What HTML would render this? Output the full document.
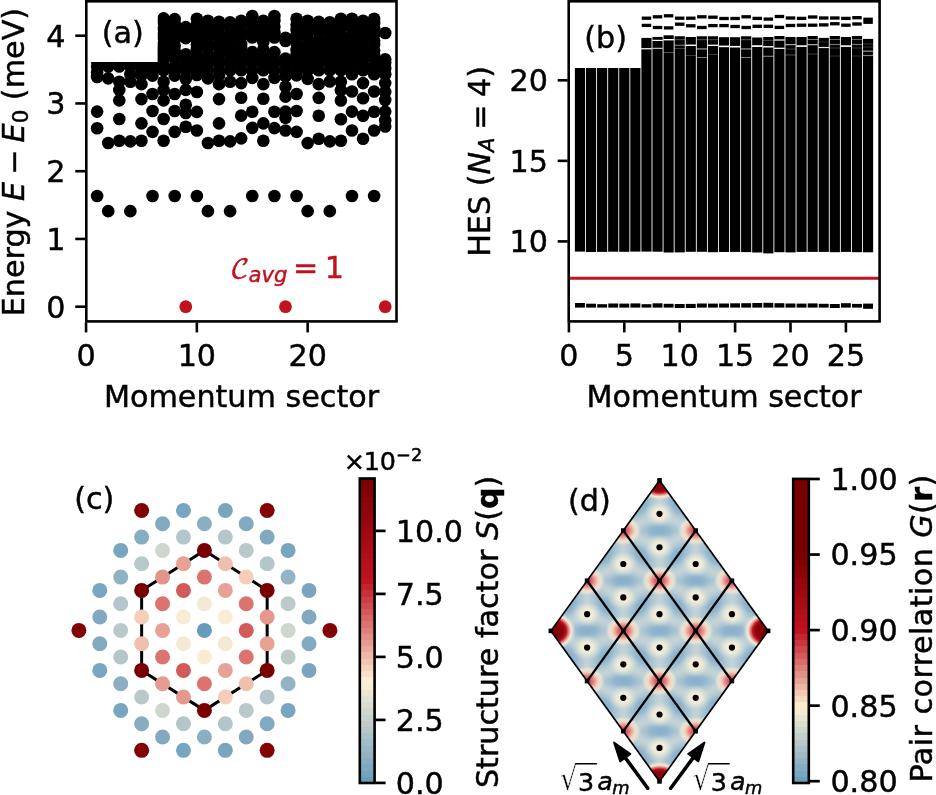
<!DOCTYPE html>
<html lang="en">
<head>
<meta charset="utf-8">
<title>Figure: energy spectrum, HES, structure factor and pair correlation</title>
<style>
html,body{margin:0;padding:0;background:#fff;}
body{width:936px;height:795px;overflow:hidden;}
svg{display:block;will-change:transform;filter:grayscale(0);color:#000;}
svg text{font-family:"DejaVu Sans", "Liberation Sans", sans-serif;font-size:30.2px;fill:currentColor;stroke:currentColor;stroke-width:0.45px;}
</style>
</head>
<body>
<svg width="936" height="795" viewBox="0 0 936 795">
<defs>
<linearGradient id="cb3" x1="0" y1="1" x2="0" y2="0"><stop offset="0.0000" stop-color="#6b9ebd"/><stop offset="0.0204" stop-color="#6b9ebd"/><stop offset="0.0204" stop-color="#74a3be"/><stop offset="0.0408" stop-color="#74a3be"/><stop offset="0.0408" stop-color="#7da8c0"/><stop offset="0.0612" stop-color="#7da8c0"/><stop offset="0.0612" stop-color="#86adc1"/><stop offset="0.0816" stop-color="#86adc1"/><stop offset="0.0816" stop-color="#90b2c3"/><stop offset="0.1020" stop-color="#90b2c3"/><stop offset="0.1020" stop-color="#99b8c4"/><stop offset="0.1224" stop-color="#99b8c4"/><stop offset="0.1224" stop-color="#a2bdc6"/><stop offset="0.1429" stop-color="#a2bdc6"/><stop offset="0.1429" stop-color="#abc2c7"/><stop offset="0.1633" stop-color="#abc2c7"/><stop offset="0.1633" stop-color="#b5c7c9"/><stop offset="0.1837" stop-color="#b5c7c9"/><stop offset="0.1837" stop-color="#becccb"/><stop offset="0.2041" stop-color="#becccb"/><stop offset="0.2041" stop-color="#c7d2cc"/><stop offset="0.2245" stop-color="#c7d2cc"/><stop offset="0.2245" stop-color="#d0d7ce"/><stop offset="0.2449" stop-color="#d0d7ce"/><stop offset="0.2449" stop-color="#dadccf"/><stop offset="0.2653" stop-color="#dadccf"/><stop offset="0.2653" stop-color="#e3e1d1"/><stop offset="0.2857" stop-color="#e3e1d1"/><stop offset="0.2857" stop-color="#ece6d2"/><stop offset="0.3061" stop-color="#ece6d2"/><stop offset="0.3061" stop-color="#f5ecd4"/><stop offset="0.3265" stop-color="#f5ecd4"/><stop offset="0.3265" stop-color="#fceed3"/><stop offset="0.3469" stop-color="#fceed3"/><stop offset="0.3469" stop-color="#f9e0c8"/><stop offset="0.3673" stop-color="#f9e0c8"/><stop offset="0.3673" stop-color="#f5d3bd"/><stop offset="0.3878" stop-color="#f5d3bd"/><stop offset="0.3878" stop-color="#f1c5b2"/><stop offset="0.4082" stop-color="#f1c5b2"/><stop offset="0.4082" stop-color="#eeb7a7"/><stop offset="0.4286" stop-color="#eeb7a7"/><stop offset="0.4286" stop-color="#eaaa9b"/><stop offset="0.4490" stop-color="#eaaa9b"/><stop offset="0.4490" stop-color="#e69c90"/><stop offset="0.4694" stop-color="#e69c90"/><stop offset="0.4694" stop-color="#e38f85"/><stop offset="0.4898" stop-color="#e38f85"/><stop offset="0.4898" stop-color="#df817a"/><stop offset="0.5102" stop-color="#df817a"/><stop offset="0.5102" stop-color="#db736f"/><stop offset="0.5306" stop-color="#db736f"/><stop offset="0.5306" stop-color="#d86664"/><stop offset="0.5510" stop-color="#d86664"/><stop offset="0.5510" stop-color="#d45859"/><stop offset="0.5714" stop-color="#d45859"/><stop offset="0.5714" stop-color="#d04b4d"/><stop offset="0.5918" stop-color="#d04b4d"/><stop offset="0.5918" stop-color="#cd3d42"/><stop offset="0.6122" stop-color="#cd3d42"/><stop offset="0.6122" stop-color="#c92f37"/><stop offset="0.6327" stop-color="#c92f37"/><stop offset="0.6327" stop-color="#c5222c"/><stop offset="0.6531" stop-color="#c5222c"/><stop offset="0.6531" stop-color="#c21421"/><stop offset="0.6735" stop-color="#c21421"/><stop offset="0.6735" stop-color="#bd111d"/><stop offset="0.6939" stop-color="#bd111d"/><stop offset="0.6939" stop-color="#b9101c"/><stop offset="0.7143" stop-color="#b9101c"/><stop offset="0.7143" stop-color="#b40f1a"/><stop offset="0.7347" stop-color="#b40f1a"/><stop offset="0.7347" stop-color="#b00e18"/><stop offset="0.7551" stop-color="#b00e18"/><stop offset="0.7551" stop-color="#ab0d16"/><stop offset="0.7755" stop-color="#ab0d16"/><stop offset="0.7755" stop-color="#a70c14"/><stop offset="0.7959" stop-color="#a70c14"/><stop offset="0.7959" stop-color="#a20a12"/><stop offset="0.8163" stop-color="#a20a12"/><stop offset="0.8163" stop-color="#9e0910"/><stop offset="0.8367" stop-color="#9e0910"/><stop offset="0.8367" stop-color="#9a080e"/><stop offset="0.8571" stop-color="#9a080e"/><stop offset="0.8571" stop-color="#95070c"/><stop offset="0.8776" stop-color="#95070c"/><stop offset="0.8776" stop-color="#91060a"/><stop offset="0.8980" stop-color="#91060a"/><stop offset="0.8980" stop-color="#8c0509"/><stop offset="0.9184" stop-color="#8c0509"/><stop offset="0.9184" stop-color="#880407"/><stop offset="0.9388" stop-color="#880407"/><stop offset="0.9388" stop-color="#830305"/><stop offset="0.9592" stop-color="#830305"/><stop offset="0.9592" stop-color="#7f0203"/><stop offset="0.9796" stop-color="#7f0203"/><stop offset="0.9796" stop-color="#7a0101"/><stop offset="1.0000" stop-color="#7a0101"/></linearGradient>
<linearGradient id="cb4" x1="0" y1="1" x2="0" y2="0"><stop offset="0.0000" stop-color="#6c9ebd"/><stop offset="0.0204" stop-color="#6c9ebd"/><stop offset="0.0204" stop-color="#78a5bf"/><stop offset="0.0408" stop-color="#78a5bf"/><stop offset="0.0408" stop-color="#85acc1"/><stop offset="0.0612" stop-color="#85acc1"/><stop offset="0.0612" stop-color="#91b3c3"/><stop offset="0.0816" stop-color="#91b3c3"/><stop offset="0.0816" stop-color="#9dbac5"/><stop offset="0.1020" stop-color="#9dbac5"/><stop offset="0.1020" stop-color="#aac1c7"/><stop offset="0.1224" stop-color="#aac1c7"/><stop offset="0.1224" stop-color="#b6c8c9"/><stop offset="0.1429" stop-color="#b6c8c9"/><stop offset="0.1429" stop-color="#c2cfcb"/><stop offset="0.1633" stop-color="#c2cfcb"/><stop offset="0.1633" stop-color="#cfd6cd"/><stop offset="0.1837" stop-color="#cfd6cd"/><stop offset="0.1837" stop-color="#dbddcf"/><stop offset="0.2041" stop-color="#dbddcf"/><stop offset="0.2041" stop-color="#e7e4d1"/><stop offset="0.2245" stop-color="#e7e4d1"/><stop offset="0.2245" stop-color="#f4ebd3"/><stop offset="0.2449" stop-color="#f4ebd3"/><stop offset="0.2449" stop-color="#fcebd1"/><stop offset="0.2653" stop-color="#fcebd1"/><stop offset="0.2653" stop-color="#f7d9c2"/><stop offset="0.2857" stop-color="#f7d9c2"/><stop offset="0.2857" stop-color="#f2c7b4"/><stop offset="0.3061" stop-color="#f2c7b4"/><stop offset="0.3061" stop-color="#edb5a5"/><stop offset="0.3265" stop-color="#edb5a5"/><stop offset="0.3265" stop-color="#e8a396"/><stop offset="0.3469" stop-color="#e8a396"/><stop offset="0.3469" stop-color="#e39187"/><stop offset="0.3673" stop-color="#e39187"/><stop offset="0.3673" stop-color="#de7f78"/><stop offset="0.3878" stop-color="#de7f78"/><stop offset="0.3878" stop-color="#d96d69"/><stop offset="0.4082" stop-color="#d96d69"/><stop offset="0.4082" stop-color="#d55a5a"/><stop offset="0.4286" stop-color="#d55a5a"/><stop offset="0.4286" stop-color="#d0484c"/><stop offset="0.4490" stop-color="#d0484c"/><stop offset="0.4490" stop-color="#cb363d"/><stop offset="0.4694" stop-color="#cb363d"/><stop offset="0.4694" stop-color="#c6242e"/><stop offset="0.4898" stop-color="#c6242e"/><stop offset="0.4898" stop-color="#c1121f"/><stop offset="0.5102" stop-color="#c1121f"/><stop offset="0.5102" stop-color="#bb111d"/><stop offset="0.5306" stop-color="#bb111d"/><stop offset="0.5306" stop-color="#b60f1a"/><stop offset="0.5510" stop-color="#b60f1a"/><stop offset="0.5510" stop-color="#b00e18"/><stop offset="0.5714" stop-color="#b00e18"/><stop offset="0.5714" stop-color="#aa0c15"/><stop offset="0.5918" stop-color="#aa0c15"/><stop offset="0.5918" stop-color="#a40b13"/><stop offset="0.6122" stop-color="#a40b13"/><stop offset="0.6122" stop-color="#9f0a10"/><stop offset="0.6327" stop-color="#9f0a10"/><stop offset="0.6327" stop-color="#99080e"/><stop offset="0.6531" stop-color="#99080e"/><stop offset="0.6531" stop-color="#93070c"/><stop offset="0.6735" stop-color="#93070c"/><stop offset="0.6735" stop-color="#8d0509"/><stop offset="0.6939" stop-color="#8d0509"/><stop offset="0.6939" stop-color="#880407"/><stop offset="0.7143" stop-color="#880407"/><stop offset="0.7143" stop-color="#820204"/><stop offset="0.7347" stop-color="#820204"/><stop offset="0.7347" stop-color="#7c0102"/><stop offset="0.7551" stop-color="#7c0102"/><stop offset="0.7551" stop-color="#780000"/><stop offset="0.7755" stop-color="#780000"/><stop offset="0.7755" stop-color="#780000"/><stop offset="0.7959" stop-color="#780000"/><stop offset="0.7959" stop-color="#780000"/><stop offset="0.8163" stop-color="#780000"/><stop offset="0.8163" stop-color="#780000"/><stop offset="0.8367" stop-color="#780000"/><stop offset="0.8367" stop-color="#780000"/><stop offset="0.8571" stop-color="#780000"/><stop offset="0.8571" stop-color="#780000"/><stop offset="0.8776" stop-color="#780000"/><stop offset="0.8776" stop-color="#780000"/><stop offset="0.8980" stop-color="#780000"/><stop offset="0.8980" stop-color="#780000"/><stop offset="0.9184" stop-color="#780000"/><stop offset="0.9184" stop-color="#780000"/><stop offset="0.9388" stop-color="#780000"/><stop offset="0.9388" stop-color="#780000"/><stop offset="0.9592" stop-color="#780000"/><stop offset="0.9592" stop-color="#780000"/><stop offset="0.9796" stop-color="#780000"/><stop offset="0.9796" stop-color="#780000"/><stop offset="1.0000" stop-color="#780000"/></linearGradient>
<filter id="blur" x="-5%" y="-5%" width="110%" height="110%"><feGaussianBlur stdDeviation="3"/></filter>
<radialGradient id="gblue"><stop offset="0" stop-color="#82acc9" stop-opacity="0.85"/><stop offset="0.45" stop-color="#88b0cb" stop-opacity="0.7"/><stop offset="1" stop-color="#a6c3d3" stop-opacity="0"/></radialGradient>
<radialGradient id="gcream"><stop offset="0" stop-color="#f5edd8" stop-opacity="1"/><stop offset="0.4" stop-color="#f2ebd8" stop-opacity="0.95"/><stop offset="0.68" stop-color="#dde4d9" stop-opacity="0.55"/><stop offset="1" stop-color="#bcd0d8" stop-opacity="0"/></radialGradient>
<radialGradient id="gpink"><stop offset="0" stop-color="#cf3f4b" stop-opacity="1"/><stop offset="0.25" stop-color="#d9626a" stop-opacity="1"/><stop offset="0.45" stop-color="#eaa095" stop-opacity="1"/><stop offset="0.62" stop-color="#f6d5c1" stop-opacity="0.95"/><stop offset="0.8" stop-color="#f5ecd6" stop-opacity="0.65"/><stop offset="1" stop-color="#dfe3d8" stop-opacity="0"/></radialGradient>
<radialGradient id="gdark"><stop offset="0" stop-color="#780000" stop-opacity="1"/><stop offset="0.5" stop-color="#8a0510" stop-opacity="1"/><stop offset="0.62" stop-color="#c1121f" stop-opacity="1"/><stop offset="0.72" stop-color="#e38b83" stop-opacity="1"/><stop offset="0.82" stop-color="#fbeed6" stop-opacity="0.9"/><stop offset="1" stop-color="#dfe3d8" stop-opacity="0"/></radialGradient>
</defs>
<rect width="936" height="795" fill="#fff"/>
<g id="panel-a">
<g fill="#000">
<circle cx="97.13" cy="195.93" r="6.3"/>
<circle cx="97.13" cy="128.18" r="6.3"/>
<circle cx="97.13" cy="111.58" r="6.3"/>
<circle cx="97.13" cy="77.03" r="6.3"/>
<circle cx="97.13" cy="72.28" r="6.3"/>
<circle cx="97.13" cy="66.53" r="6.3"/>
<circle cx="97.13" cy="61.24" r="6.3"/>
<circle cx="97.13" cy="55.95" r="6.3"/>
<circle cx="97.13" cy="49.25" r="6.3"/>
<circle cx="108.21" cy="211.17" r="6.3"/>
<circle cx="108.21" cy="142.95" r="6.3"/>
<circle cx="108.21" cy="78.38" r="6.3"/>
<circle cx="108.21" cy="66.53" r="6.3"/>
<circle cx="108.21" cy="60.36" r="6.3"/>
<circle cx="108.21" cy="56.17" r="6.3"/>
<circle cx="108.21" cy="49.25" r="6.3"/>
<circle cx="119.29" cy="140.71" r="6.3"/>
<circle cx="119.29" cy="119.03" r="6.3"/>
<circle cx="119.29" cy="100.33" r="6.3"/>
<circle cx="119.29" cy="89.9" r="6.3"/>
<circle cx="119.29" cy="81.77" r="6.3"/>
<circle cx="119.29" cy="66.53" r="6.3"/>
<circle cx="119.29" cy="60.67" r="6.3"/>
<circle cx="119.29" cy="55.37" r="6.3"/>
<circle cx="119.29" cy="49.25" r="6.3"/>
<circle cx="130.37" cy="211.17" r="6.3"/>
<circle cx="130.37" cy="141.39" r="6.3"/>
<circle cx="130.37" cy="81.77" r="6.3"/>
<circle cx="130.37" cy="74.32" r="6.3"/>
<circle cx="130.37" cy="66.53" r="6.3"/>
<circle cx="130.37" cy="61.97" r="6.3"/>
<circle cx="130.37" cy="54.99" r="6.3"/>
<circle cx="130.37" cy="49.25" r="6.3"/>
<circle cx="141.45" cy="140.71" r="6.3"/>
<circle cx="141.45" cy="123.37" r="6.3"/>
<circle cx="141.45" cy="99.11" r="6.3"/>
<circle cx="141.45" cy="84.14" r="6.3"/>
<circle cx="141.45" cy="75.67" r="6.3"/>
<circle cx="141.45" cy="69.57" r="6.3"/>
<circle cx="141.45" cy="66.53" r="6.3"/>
<circle cx="141.45" cy="62.02" r="6.3"/>
<circle cx="141.45" cy="55.19" r="6.3"/>
<circle cx="141.45" cy="49.25" r="6.3"/>
<circle cx="152.53" cy="195.93" r="6.3"/>
<circle cx="152.53" cy="131.9" r="6.3"/>
<circle cx="152.53" cy="111.04" r="6.3"/>
<circle cx="152.53" cy="93.96" r="6.3"/>
<circle cx="152.53" cy="75.67" r="6.3"/>
<circle cx="152.53" cy="69.57" r="6.3"/>
<circle cx="152.53" cy="66.53" r="6.3"/>
<circle cx="152.53" cy="61.93" r="6.3"/>
<circle cx="152.53" cy="56.12" r="6.3"/>
<circle cx="152.53" cy="49.25" r="6.3"/>
<circle cx="163.61" cy="140.71" r="6.3"/>
<circle cx="163.61" cy="119.03" r="6.3"/>
<circle cx="163.61" cy="100.33" r="6.3"/>
<circle cx="163.61" cy="89.9" r="6.3"/>
<circle cx="163.61" cy="81.77" r="6.3"/>
<circle cx="163.61" cy="70.25" r="6.3"/>
<circle cx="163.61" cy="65.27" r="6.3"/>
<circle cx="163.61" cy="58.99" r="6.3"/>
<circle cx="163.61" cy="55.7" r="6.3"/>
<circle cx="163.61" cy="50.24" r="6.3"/>
<circle cx="163.61" cy="43.96" r="6.3"/>
<circle cx="163.61" cy="37.9" r="6.3"/>
<circle cx="163.61" cy="33.72" r="6.3"/>
<circle cx="163.61" cy="29.02" r="6.3"/>
<circle cx="163.61" cy="22.25" r="6.3"/>
<circle cx="163.61" cy="18.36" r="6.3"/>
<circle cx="174.69" cy="195.93" r="6.3"/>
<circle cx="174.69" cy="131.9" r="6.3"/>
<circle cx="174.69" cy="111.04" r="6.3"/>
<circle cx="174.69" cy="93.96" r="6.3"/>
<circle cx="174.69" cy="75.67" r="6.3"/>
<circle cx="174.69" cy="70.25" r="6.3"/>
<circle cx="174.69" cy="66.37" r="6.3"/>
<circle cx="174.69" cy="59.05" r="6.3"/>
<circle cx="174.69" cy="55.48" r="6.3"/>
<circle cx="174.69" cy="50.76" r="6.3"/>
<circle cx="174.69" cy="45.71" r="6.3"/>
<circle cx="174.69" cy="40.08" r="6.3"/>
<circle cx="174.69" cy="33.59" r="6.3"/>
<circle cx="174.69" cy="30.2" r="6.3"/>
<circle cx="174.69" cy="24" r="6.3"/>
<circle cx="174.69" cy="19.1" r="6.3"/>
<circle cx="185.77" cy="126.82" r="6.3"/>
<circle cx="185.77" cy="112.94" r="6.3"/>
<circle cx="185.77" cy="104.8" r="6.3"/>
<circle cx="185.77" cy="89.9" r="6.3"/>
<circle cx="185.77" cy="79.06" r="6.3"/>
<circle cx="185.77" cy="70.25" r="6.3"/>
<circle cx="185.77" cy="64.55" r="6.3"/>
<circle cx="185.77" cy="59.94" r="6.3"/>
<circle cx="185.77" cy="54.26" r="6.3"/>
<circle cx="185.77" cy="38.14" r="6.3"/>
<circle cx="185.77" cy="32.49" r="6.3"/>
<circle cx="185.77" cy="27.1" r="6.3"/>
<circle cx="196.85" cy="195.93" r="6.3"/>
<circle cx="196.85" cy="130.55" r="6.3"/>
<circle cx="196.85" cy="111.92" r="6.3"/>
<circle cx="196.85" cy="91.93" r="6.3"/>
<circle cx="196.85" cy="75" r="6.3"/>
<circle cx="196.85" cy="70.25" r="6.3"/>
<circle cx="196.85" cy="66.29" r="6.3"/>
<circle cx="196.85" cy="61.15" r="6.3"/>
<circle cx="196.85" cy="55.6" r="6.3"/>
<circle cx="196.85" cy="49.17" r="6.3"/>
<circle cx="196.85" cy="44.7" r="6.3"/>
<circle cx="196.85" cy="39.86" r="6.3"/>
<circle cx="196.85" cy="33.98" r="6.3"/>
<circle cx="196.85" cy="29.19" r="6.3"/>
<circle cx="196.85" cy="24.45" r="6.3"/>
<circle cx="196.85" cy="18.76" r="6.3"/>
<circle cx="207.93" cy="211.17" r="6.3"/>
<circle cx="207.93" cy="142.95" r="6.3"/>
<circle cx="207.93" cy="78.38" r="6.3"/>
<circle cx="207.93" cy="70.25" r="6.3"/>
<circle cx="207.93" cy="63.96" r="6.3"/>
<circle cx="207.93" cy="58.72" r="6.3"/>
<circle cx="207.93" cy="54.46" r="6.3"/>
<circle cx="207.93" cy="48.07" r="6.3"/>
<circle cx="207.93" cy="42.71" r="6.3"/>
<circle cx="207.93" cy="36.26" r="6.3"/>
<circle cx="207.93" cy="31.16" r="6.3"/>
<circle cx="207.93" cy="26.86" r="6.3"/>
<circle cx="207.93" cy="20.8" r="6.3"/>
<circle cx="219.01" cy="140.71" r="6.3"/>
<circle cx="219.01" cy="123.37" r="6.3"/>
<circle cx="219.01" cy="99.11" r="6.3"/>
<circle cx="219.01" cy="84.14" r="6.3"/>
<circle cx="219.01" cy="75.67" r="6.3"/>
<circle cx="219.01" cy="70.25" r="6.3"/>
<circle cx="219.01" cy="63.56" r="6.3"/>
<circle cx="219.01" cy="60.51" r="6.3"/>
<circle cx="219.01" cy="54.3" r="6.3"/>
<circle cx="219.01" cy="48" r="6.3"/>
<circle cx="219.01" cy="44.25" r="6.3"/>
<circle cx="219.01" cy="37.94" r="6.3"/>
<circle cx="219.01" cy="33.77" r="6.3"/>
<circle cx="219.01" cy="26.68" r="6.3"/>
<circle cx="219.01" cy="21.74" r="6.3"/>
<circle cx="230.09" cy="211.17" r="6.3"/>
<circle cx="230.09" cy="141.39" r="6.3"/>
<circle cx="230.09" cy="81.77" r="6.3"/>
<circle cx="230.09" cy="70.25" r="6.3"/>
<circle cx="230.09" cy="64.21" r="6.3"/>
<circle cx="230.09" cy="59.4" r="6.3"/>
<circle cx="230.09" cy="53.25" r="6.3"/>
<circle cx="230.09" cy="49.44" r="6.3"/>
<circle cx="230.09" cy="43.07" r="6.3"/>
<circle cx="230.09" cy="38.02" r="6.3"/>
<circle cx="230.09" cy="32.73" r="6.3"/>
<circle cx="230.09" cy="27.73" r="6.3"/>
<circle cx="230.09" cy="22.29" r="6.3"/>
<circle cx="241.17" cy="138.34" r="6.3"/>
<circle cx="241.17" cy="115.65" r="6.3"/>
<circle cx="241.17" cy="97.69" r="6.3"/>
<circle cx="241.17" cy="83.12" r="6.3"/>
<circle cx="241.17" cy="70.25" r="6.3"/>
<circle cx="241.17" cy="63.84" r="6.3"/>
<circle cx="241.17" cy="58.06" r="6.3"/>
<circle cx="241.17" cy="53.84" r="6.3"/>
<circle cx="241.17" cy="47.83" r="6.3"/>
<circle cx="241.17" cy="43.97" r="6.3"/>
<circle cx="241.17" cy="36.73" r="6.3"/>
<circle cx="241.17" cy="31.39" r="6.3"/>
<circle cx="241.17" cy="24.95" r="6.3"/>
<circle cx="241.17" cy="20.8" r="6.3"/>
<circle cx="252.25" cy="195.93" r="6.3"/>
<circle cx="252.25" cy="127.84" r="6.3"/>
<circle cx="252.25" cy="111.78" r="6.3"/>
<circle cx="252.25" cy="77.91" r="6.3"/>
<circle cx="252.25" cy="70.25" r="6.3"/>
<circle cx="252.25" cy="63.35" r="6.3"/>
<circle cx="252.25" cy="58.78" r="6.3"/>
<circle cx="252.25" cy="52.16" r="6.3"/>
<circle cx="252.25" cy="37.53" r="6.3"/>
<circle cx="252.25" cy="32.47" r="6.3"/>
<circle cx="252.25" cy="26.33" r="6.3"/>
<circle cx="252.25" cy="22.72" r="6.3"/>
<circle cx="252.25" cy="16.05" r="6.3"/>
<circle cx="263.33" cy="140.71" r="6.3"/>
<circle cx="263.33" cy="123.37" r="6.3"/>
<circle cx="263.33" cy="98.71" r="6.3"/>
<circle cx="263.33" cy="84.14" r="6.3"/>
<circle cx="263.33" cy="70.25" r="6.3"/>
<circle cx="263.33" cy="64.86" r="6.3"/>
<circle cx="263.33" cy="60.16" r="6.3"/>
<circle cx="263.33" cy="54.8" r="6.3"/>
<circle cx="263.33" cy="49.47" r="6.3"/>
<circle cx="263.33" cy="42.05" r="6.3"/>
<circle cx="263.33" cy="38.29" r="6.3"/>
<circle cx="263.33" cy="32.47" r="6.3"/>
<circle cx="263.33" cy="26.59" r="6.3"/>
<circle cx="263.33" cy="20.8" r="6.3"/>
<circle cx="274.41" cy="195.93" r="6.3"/>
<circle cx="274.41" cy="128.11" r="6.3"/>
<circle cx="274.41" cy="111.78" r="6.3"/>
<circle cx="274.41" cy="77.91" r="6.3"/>
<circle cx="274.41" cy="70.25" r="6.3"/>
<circle cx="274.41" cy="63.22" r="6.3"/>
<circle cx="274.41" cy="59.33" r="6.3"/>
<circle cx="274.41" cy="52.16" r="6.3"/>
<circle cx="274.41" cy="37.53" r="6.3"/>
<circle cx="274.41" cy="32.3" r="6.3"/>
<circle cx="274.41" cy="26.66" r="6.3"/>
<circle cx="274.41" cy="20.38" r="6.3"/>
<circle cx="274.41" cy="16.05" r="6.3"/>
<circle cx="285.49" cy="130.55" r="6.3"/>
<circle cx="285.49" cy="117.68" r="6.3"/>
<circle cx="285.49" cy="111.58" r="6.3"/>
<circle cx="285.49" cy="96.67" r="6.3"/>
<circle cx="285.49" cy="86.72" r="6.3"/>
<circle cx="285.49" cy="76.35" r="6.3"/>
<circle cx="285.49" cy="70.25" r="6.3"/>
<circle cx="285.49" cy="63.49" r="6.3"/>
<circle cx="285.49" cy="58.46" r="6.3"/>
<circle cx="285.49" cy="40.98" r="6.3"/>
<circle cx="285.49" cy="37.73" r="6.3"/>
<circle cx="296.57" cy="195.93" r="6.3"/>
<circle cx="296.57" cy="131.9" r="6.3"/>
<circle cx="296.57" cy="111.04" r="6.3"/>
<circle cx="296.57" cy="93.96" r="6.3"/>
<circle cx="296.57" cy="75.33" r="6.3"/>
<circle cx="296.57" cy="70.25" r="6.3"/>
<circle cx="296.57" cy="64.12" r="6.3"/>
<circle cx="296.57" cy="60.55" r="6.3"/>
<circle cx="296.57" cy="55.04" r="6.3"/>
<circle cx="296.57" cy="50.04" r="6.3"/>
<circle cx="296.57" cy="43.47" r="6.3"/>
<circle cx="296.57" cy="38.12" r="6.3"/>
<circle cx="296.57" cy="35.16" r="6.3"/>
<circle cx="296.57" cy="29.94" r="6.3"/>
<circle cx="296.57" cy="24.64" r="6.3"/>
<circle cx="296.57" cy="18.76" r="6.3"/>
<circle cx="307.65" cy="211.17" r="6.3"/>
<circle cx="307.65" cy="143.08" r="6.3"/>
<circle cx="307.65" cy="78.86" r="6.3"/>
<circle cx="307.65" cy="70.25" r="6.3"/>
<circle cx="307.65" cy="65.48" r="6.3"/>
<circle cx="307.65" cy="59.3" r="6.3"/>
<circle cx="307.65" cy="53.53" r="6.3"/>
<circle cx="307.65" cy="48.91" r="6.3"/>
<circle cx="307.65" cy="44.12" r="6.3"/>
<circle cx="307.65" cy="37.5" r="6.3"/>
<circle cx="307.65" cy="32.14" r="6.3"/>
<circle cx="307.65" cy="26.11" r="6.3"/>
<circle cx="307.65" cy="20.8" r="6.3"/>
<circle cx="318.73" cy="138.68" r="6.3"/>
<circle cx="318.73" cy="115.78" r="6.3"/>
<circle cx="318.73" cy="97.83" r="6.3"/>
<circle cx="318.73" cy="84.14" r="6.3"/>
<circle cx="318.73" cy="70.25" r="6.3"/>
<circle cx="318.73" cy="63.63" r="6.3"/>
<circle cx="318.73" cy="58.96" r="6.3"/>
<circle cx="318.73" cy="54.04" r="6.3"/>
<circle cx="318.73" cy="48.37" r="6.3"/>
<circle cx="318.73" cy="42.83" r="6.3"/>
<circle cx="318.73" cy="39.12" r="6.3"/>
<circle cx="318.73" cy="31.44" r="6.3"/>
<circle cx="318.73" cy="26.37" r="6.3"/>
<circle cx="318.73" cy="21.74" r="6.3"/>
<circle cx="329.81" cy="211.17" r="6.3"/>
<circle cx="329.81" cy="141.39" r="6.3"/>
<circle cx="329.81" cy="81.43" r="6.3"/>
<circle cx="329.81" cy="70.25" r="6.3"/>
<circle cx="329.81" cy="63.91" r="6.3"/>
<circle cx="329.81" cy="58.79" r="6.3"/>
<circle cx="329.81" cy="54.56" r="6.3"/>
<circle cx="329.81" cy="49.21" r="6.3"/>
<circle cx="329.81" cy="44.68" r="6.3"/>
<circle cx="329.81" cy="37.91" r="6.3"/>
<circle cx="329.81" cy="34.13" r="6.3"/>
<circle cx="329.81" cy="28.79" r="6.3"/>
<circle cx="329.81" cy="22.29" r="6.3"/>
<circle cx="340.89" cy="140.71" r="6.3"/>
<circle cx="340.89" cy="119.3" r="6.3"/>
<circle cx="340.89" cy="100.47" r="6.3"/>
<circle cx="340.89" cy="90.31" r="6.3"/>
<circle cx="340.89" cy="81.77" r="6.3"/>
<circle cx="340.89" cy="70.25" r="6.3"/>
<circle cx="340.89" cy="65.89" r="6.3"/>
<circle cx="340.89" cy="60.87" r="6.3"/>
<circle cx="340.89" cy="55.24" r="6.3"/>
<circle cx="340.89" cy="50.87" r="6.3"/>
<circle cx="340.89" cy="45.86" r="6.3"/>
<circle cx="340.89" cy="40.3" r="6.3"/>
<circle cx="340.89" cy="35.29" r="6.3"/>
<circle cx="340.89" cy="29.43" r="6.3"/>
<circle cx="340.89" cy="25.2" r="6.3"/>
<circle cx="340.89" cy="18.76" r="6.3"/>
<circle cx="351.97" cy="195.93" r="6.3"/>
<circle cx="351.97" cy="130.55" r="6.3"/>
<circle cx="351.97" cy="111.58" r="6.3"/>
<circle cx="351.97" cy="91.53" r="6.3"/>
<circle cx="351.97" cy="74.32" r="6.3"/>
<circle cx="351.97" cy="70.25" r="6.3"/>
<circle cx="351.97" cy="64.09" r="6.3"/>
<circle cx="351.97" cy="59.65" r="6.3"/>
<circle cx="351.97" cy="55.76" r="6.3"/>
<circle cx="351.97" cy="50.33" r="6.3"/>
<circle cx="351.97" cy="44.92" r="6.3"/>
<circle cx="351.97" cy="39.73" r="6.3"/>
<circle cx="351.97" cy="35.23" r="6.3"/>
<circle cx="351.97" cy="28.11" r="6.3"/>
<circle cx="351.97" cy="22.58" r="6.3"/>
<circle cx="351.97" cy="18.76" r="6.3"/>
<circle cx="363.05" cy="138.68" r="6.3"/>
<circle cx="363.05" cy="115.78" r="6.3"/>
<circle cx="363.05" cy="98.23" r="6.3"/>
<circle cx="363.05" cy="83.12" r="6.3"/>
<circle cx="363.05" cy="70.25" r="6.3"/>
<circle cx="363.05" cy="64.85" r="6.3"/>
<circle cx="363.05" cy="59.31" r="6.3"/>
<circle cx="363.05" cy="54.89" r="6.3"/>
<circle cx="363.05" cy="49.35" r="6.3"/>
<circle cx="363.05" cy="43.2" r="6.3"/>
<circle cx="363.05" cy="37.92" r="6.3"/>
<circle cx="363.05" cy="30.89" r="6.3"/>
<circle cx="363.05" cy="27.21" r="6.3"/>
<circle cx="363.05" cy="20.8" r="6.3"/>
<circle cx="374.13" cy="195.93" r="6.3"/>
<circle cx="374.13" cy="130.55" r="6.3"/>
<circle cx="374.13" cy="111.78" r="6.3"/>
<circle cx="374.13" cy="91.53" r="6.3"/>
<circle cx="374.13" cy="74.32" r="6.3"/>
<circle cx="374.13" cy="70.25" r="6.3"/>
<circle cx="374.13" cy="66.4" r="6.3"/>
<circle cx="374.13" cy="58.73" r="6.3"/>
<circle cx="374.13" cy="54.73" r="6.3"/>
<circle cx="374.13" cy="50.61" r="6.3"/>
<circle cx="374.13" cy="44.39" r="6.3"/>
<circle cx="374.13" cy="40.64" r="6.3"/>
<circle cx="374.13" cy="34.13" r="6.3"/>
<circle cx="374.13" cy="27.76" r="6.3"/>
<circle cx="374.13" cy="22.93" r="6.3"/>
<circle cx="374.13" cy="18.76" r="6.3"/>
<circle cx="385.21" cy="126.48" r="6.3"/>
<circle cx="385.21" cy="120.18" r="6.3"/>
<circle cx="385.21" cy="111.58" r="6.3"/>
<circle cx="385.21" cy="100.06" r="6.3"/>
<circle cx="385.21" cy="91.93" r="6.3"/>
<circle cx="385.21" cy="83.12" r="6.3"/>
<circle cx="385.21" cy="74.32" r="6.3"/>
<circle cx="385.21" cy="68.22" r="6.3"/>
<circle cx="385.21" cy="62.8" r="6.3"/>
<circle cx="385.21" cy="59.41" r="6.3"/>
<circle cx="385.21" cy="32.99" r="6.3"/>
</g>
<rect x="86.3" y="1.3" width="71.3" height="60.7" fill="#fff"/>
<g fill="#c1121f">
<circle cx="185.77" cy="306.7" r="6.4"/>
<circle cx="285.49" cy="306.7" r="6.4"/>
<circle cx="385.21" cy="306.7" r="6.4"/>
</g>
<rect x="86.3" y="1.3" width="310.2" height="320.1" fill="none" stroke="#000" stroke-width="2.6"/>
<line x1="86.05" y1="322.4" x2="86.05" y2="332.4" stroke="#000" stroke-width="2.6"/>
<text x="86.05" y="366" text-anchor="middle">0</text>
<line x1="196.85" y1="322.4" x2="196.85" y2="332.4" stroke="#000" stroke-width="2.6"/>
<text x="196.85" y="366" text-anchor="middle">10</text>
<line x1="307.65" y1="322.4" x2="307.65" y2="332.4" stroke="#000" stroke-width="2.6"/>
<text x="307.65" y="366" text-anchor="middle">20</text>
<line x1="85.3" y1="306.7" x2="75.3" y2="306.7" stroke="#000" stroke-width="2.6"/>
<text x="65.5" y="317.6" text-anchor="end">0</text>
<line x1="85.3" y1="238.95" x2="75.3" y2="238.95" stroke="#000" stroke-width="2.6"/>
<text x="65.5" y="249.85" text-anchor="end">1</text>
<line x1="85.3" y1="171.2" x2="75.3" y2="171.2" stroke="#000" stroke-width="2.6"/>
<text x="65.5" y="182.1" text-anchor="end">2</text>
<line x1="85.3" y1="103.45" x2="75.3" y2="103.45" stroke="#000" stroke-width="2.6"/>
<text x="65.5" y="114.35" text-anchor="end">3</text>
<line x1="85.3" y1="35.7" x2="75.3" y2="35.7" stroke="#000" stroke-width="2.6"/>
<text x="65.5" y="46.6" text-anchor="end">4</text>
<text x="241.5" y="406.8" text-anchor="middle">Momentum sector</text>
<text x="101.8" y="42.6">(a)</text>
<text transform="translate(23.5 162.1) rotate(-90)" text-anchor="middle">Energy <tspan font-style="oblique">E</tspan><tspan dx="-2.5"> −</tspan><tspan dx="-2.5"> </tspan><tspan font-style="oblique">E</tspan><tspan font-size="21.4" dy="4.4">0</tspan><tspan dy="-4.4"> (meV)</tspan></text>
<g style="color:#c1121f">
<text x="230.2" y="277.6" style="font-size:26.6px;font-family:'DejaVu Math TeX Gyre','DejaVu Serif',serif">𝒞</text>
<text x="248.6" y="282.2" style="font-size:21.2px;font-style:oblique">avg</text>
<text x="293.1" y="277.6">=</text>
<text x="324.7" y="277.6">1</text>
</g>
</g>
<g id="panel-b">
<g fill="#000">
<rect x="574.88" y="68" width="10.2" height="183.6"/>
<rect x="575.03" y="303" width="9.9" height="4.6"/>
<rect x="585.96" y="68" width="10.2" height="184"/>
<rect x="586.11" y="303.7" width="9.9" height="3.9"/>
<rect x="597.04" y="68" width="10.2" height="183.9"/>
<rect x="597.19" y="304.2" width="9.9" height="3.4"/>
<rect x="608.12" y="68" width="10.2" height="183.7"/>
<rect x="608.27" y="303.5" width="9.9" height="4.1"/>
<rect x="619.2" y="68" width="10.2" height="183.8"/>
<rect x="619.35" y="303.6" width="9.9" height="4"/>
<rect x="630.28" y="68" width="10.2" height="183.6"/>
<rect x="630.43" y="303.4" width="9.9" height="4.2"/>
<rect x="641.36" y="37.9" width="10.2" height="213.7"/>
<rect x="641.71" y="16.55" width="9.5" height="3.3"/>
<rect x="641.71" y="23.75" width="9.5" height="3.3"/>
<rect x="641.51" y="304.2" width="9.9" height="3.4"/>
<rect x="652.44" y="36.9" width="10.2" height="214.8"/>
<rect x="652.79" y="15.15" width="9.5" height="3.3"/>
<rect x="652.79" y="25.85" width="9.5" height="3.3"/>
<rect x="652.59" y="303.3" width="9.9" height="4.3"/>
<rect x="663.52" y="35.3" width="10.2" height="217.2"/>
<rect x="663.87" y="14.15" width="9.5" height="3.3"/>
<rect x="663.87" y="26.25" width="9.5" height="3.3"/>
<rect x="663.67" y="303.8" width="9.9" height="3.8"/>
<rect x="674.6" y="36.25" width="10.2" height="216.15"/>
<rect x="674.95" y="16.55" width="9.5" height="3.3"/>
<rect x="674.95" y="22.55" width="9.5" height="3.3"/>
<rect x="674.75" y="304" width="9.9" height="4"/>
<rect x="685.68" y="37" width="10.2" height="214.8"/>
<rect x="686.03" y="16.55" width="9.5" height="3.3"/>
<rect x="686.03" y="24.15" width="9.5" height="3.3"/>
<rect x="685.83" y="303.9" width="9.9" height="4.1"/>
<rect x="696.76" y="36.25" width="10.2" height="215.55"/>
<rect x="697.11" y="15.15" width="9.5" height="3.3"/>
<rect x="697.11" y="25.85" width="9.5" height="3.3"/>
<rect x="696.91" y="303.5" width="9.9" height="4.1"/>
<rect x="707.84" y="36.25" width="10.2" height="215.95"/>
<rect x="708.19" y="15.55" width="9.5" height="3.3"/>
<rect x="708.19" y="23.95" width="9.5" height="3.3"/>
<rect x="707.99" y="303.6" width="9.9" height="4"/>
<rect x="718.92" y="37.2" width="10.2" height="214.8"/>
<rect x="719.27" y="16.85" width="9.5" height="3.3"/>
<rect x="719.27" y="23.95" width="9.5" height="3.3"/>
<rect x="719.07" y="303.5" width="9.9" height="4.1"/>
<rect x="730" y="37.2" width="10.2" height="214.7"/>
<rect x="730.35" y="16.85" width="9.5" height="3.3"/>
<rect x="730.35" y="24.85" width="9.5" height="3.3"/>
<rect x="730.15" y="303.3" width="9.9" height="4.3"/>
<rect x="741.08" y="36.25" width="10.2" height="215.85"/>
<rect x="741.43" y="15.15" width="9.5" height="3.3"/>
<rect x="741.43" y="25.85" width="9.5" height="3.3"/>
<rect x="741.23" y="303.2" width="9.9" height="4.4"/>
<rect x="752.16" y="37.5" width="10.2" height="215"/>
<rect x="752.51" y="16.75" width="9.5" height="3.3"/>
<rect x="752.51" y="24.65" width="9.5" height="3.3"/>
<rect x="752.31" y="303" width="9.9" height="4.6"/>
<rect x="763.24" y="37" width="10.2" height="216.4"/>
<rect x="763.59" y="17.45" width="9.5" height="3.3"/>
<rect x="763.59" y="24.65" width="9.5" height="3.3"/>
<rect x="763.39" y="302.8" width="9.9" height="4.8"/>
<rect x="774.32" y="36" width="10.2" height="216.2"/>
<rect x="774.67" y="14.85" width="9.5" height="3.3"/>
<rect x="774.67" y="25.75" width="9.5" height="3.3"/>
<rect x="774.47" y="303.2" width="9.9" height="4.4"/>
<rect x="785.4" y="37" width="10.2" height="215.4"/>
<rect x="785.75" y="16.35" width="9.5" height="3.3"/>
<rect x="785.75" y="23.85" width="9.5" height="3.3"/>
<rect x="785.55" y="303.5" width="9.9" height="4.1"/>
<rect x="796.48" y="37" width="10.2" height="214.9"/>
<rect x="796.83" y="16.75" width="9.5" height="3.3"/>
<rect x="796.83" y="23.55" width="9.5" height="3.3"/>
<rect x="796.63" y="303.6" width="9.9" height="4"/>
<rect x="807.56" y="36" width="10.2" height="215.9"/>
<rect x="807.91" y="15.35" width="9.5" height="3.3"/>
<rect x="807.91" y="23.55" width="9.5" height="3.3"/>
<rect x="807.71" y="303.4" width="9.9" height="4.2"/>
<rect x="818.64" y="37.9" width="10.2" height="214"/>
<rect x="818.99" y="16.35" width="9.5" height="3.3"/>
<rect x="818.99" y="23.25" width="9.5" height="3.3"/>
<rect x="818.79" y="303.8" width="9.9" height="3.8"/>
<rect x="829.72" y="36" width="10.2" height="216.2"/>
<rect x="830.07" y="16.35" width="9.5" height="3.3"/>
<rect x="830.07" y="22.1" width="9.5" height="3.3"/>
<rect x="829.87" y="304" width="9.9" height="4"/>
<rect x="840.8" y="37" width="10.2" height="214.9"/>
<rect x="841.15" y="16.75" width="9.5" height="3.3"/>
<rect x="841.15" y="23.55" width="9.5" height="3.3"/>
<rect x="840.95" y="303.2" width="9.9" height="4.4"/>
<rect x="851.88" y="36" width="10.2" height="216.2"/>
<rect x="852.23" y="16.05" width="9.5" height="3.3"/>
<rect x="852.23" y="22.35" width="9.5" height="3.3"/>
<rect x="852.03" y="303.9" width="9.9" height="3.7"/>
<rect x="862.96" y="38.9" width="10.2" height="213.4"/>
<rect x="863.31" y="17.6" width="9.5" height="6.3"/>
<rect x="863.11" y="303.6" width="9.9" height="5.2"/>
</g>
<g fill="#fff">
<rect x="641.16" y="48.15" width="10.6" height="1.2" opacity="1"/>
<rect x="652.24" y="39.8" width="10.6" height="1.2" opacity="1"/>
<rect x="652.24" y="47.8" width="10.6" height="1" opacity="0.9"/>
<rect x="663.32" y="39" width="10.6" height="1.4" opacity="1"/>
<rect x="663.32" y="52.1" width="10.6" height="0.8" opacity="0.4"/>
<rect x="674.4" y="39.2" width="10.6" height="1" opacity="0.35"/>
<rect x="674.4" y="44.7" width="10.6" height="1.2" opacity="0.45"/>
<rect x="674.4" y="48.1" width="10.6" height="0.8" opacity="0.3"/>
<rect x="685.48" y="44.6" width="10.6" height="1.4" opacity="1"/>
<rect x="685.48" y="55.1" width="10.6" height="0.8" opacity="0.3"/>
<rect x="696.56" y="39.2" width="10.6" height="1" opacity="0.35"/>
<rect x="696.56" y="48.2" width="10.6" height="1.4" opacity="0.5"/>
<rect x="696.56" y="57.1" width="10.6" height="0.8" opacity="0.6"/>
<rect x="707.64" y="39.2" width="10.6" height="1" opacity="0.3"/>
<rect x="707.64" y="44.65" width="10.6" height="1.3" opacity="1"/>
<rect x="707.64" y="53.9" width="10.6" height="0.8" opacity="0.3"/>
<rect x="718.72" y="45.6" width="10.6" height="1.6" opacity="1"/>
<rect x="729.8" y="45.9" width="10.6" height="1.6" opacity="1"/>
<rect x="740.88" y="39.2" width="10.6" height="1" opacity="0.35"/>
<rect x="740.88" y="48.2" width="10.6" height="1.4" opacity="0.5"/>
<rect x="740.88" y="57.1" width="10.6" height="0.8" opacity="0.6"/>
<rect x="751.96" y="45.25" width="10.6" height="1.7" opacity="1"/>
<rect x="763.04" y="40.1" width="10.6" height="0.8" opacity="0.3"/>
<rect x="763.04" y="46.1" width="10.6" height="1.4" opacity="1"/>
<rect x="763.04" y="55.8" width="10.6" height="0.8" opacity="0.7"/>
<rect x="774.12" y="39.4" width="10.6" height="1.2" opacity="1"/>
<rect x="774.12" y="47.7" width="10.6" height="1.2" opacity="1"/>
<rect x="785.2" y="44.2" width="10.6" height="1" opacity="0.8"/>
<rect x="785.2" y="48.6" width="10.6" height="0.8" opacity="0.3"/>
<rect x="785.2" y="54.6" width="10.6" height="0.8" opacity="0.4"/>
<rect x="796.28" y="45.3" width="10.6" height="1.6" opacity="1"/>
<rect x="807.36" y="39" width="10.6" height="1" opacity="0.45"/>
<rect x="807.36" y="44.2" width="10.6" height="1" opacity="0.8"/>
<rect x="807.36" y="53.6" width="10.6" height="0.8" opacity="0.3"/>
<rect x="818.44" y="41.6" width="10.6" height="0.8" opacity="0.2"/>
<rect x="818.44" y="46.9" width="10.6" height="1.2" opacity="0.9"/>
<rect x="829.52" y="39" width="10.6" height="1" opacity="0.4"/>
<rect x="829.52" y="43.9" width="10.6" height="1.2" opacity="0.45"/>
<rect x="829.52" y="47.6" width="10.6" height="0.8" opacity="0.3"/>
<rect x="829.52" y="55.6" width="10.6" height="0.8" opacity="0.25"/>
<rect x="840.6" y="45.3" width="10.6" height="1.6" opacity="1"/>
<rect x="851.68" y="39" width="10.6" height="1" opacity="0.4"/>
<rect x="851.68" y="43.9" width="10.6" height="1.2" opacity="0.45"/>
<rect x="851.68" y="47.6" width="10.6" height="0.8" opacity="0.3"/>
<rect x="851.68" y="55.6" width="10.6" height="0.8" opacity="0.25"/>
<rect x="862.76" y="43.6" width="10.6" height="0.8" opacity="0.25"/>
<rect x="862.76" y="46.6" width="10.6" height="0.8" opacity="0.25"/>
<rect x="862.76" y="50.55" width="10.6" height="1.3" opacity="0.55"/>
<rect x="862.76" y="54.9" width="10.6" height="1.2" opacity="0.5"/>
</g>
<line x1="568.7" y1="278.25" x2="879.6" y2="278.25" stroke="#c1121f" stroke-width="2.9"/>
<rect x="568.7" y="1.3" width="310.9" height="320.1" fill="none" stroke="#000" stroke-width="2.6"/>
<line x1="568.9" y1="322.4" x2="568.9" y2="332.4" stroke="#000" stroke-width="2.6"/>
<text x="568.9" y="366" text-anchor="middle">0</text>
<line x1="624.3" y1="322.4" x2="624.3" y2="332.4" stroke="#000" stroke-width="2.6"/>
<text x="624.3" y="366" text-anchor="middle">5</text>
<line x1="679.7" y1="322.4" x2="679.7" y2="332.4" stroke="#000" stroke-width="2.6"/>
<text x="679.7" y="366" text-anchor="middle">10</text>
<line x1="735.1" y1="322.4" x2="735.1" y2="332.4" stroke="#000" stroke-width="2.6"/>
<text x="735.1" y="366" text-anchor="middle">15</text>
<line x1="790.5" y1="322.4" x2="790.5" y2="332.4" stroke="#000" stroke-width="2.6"/>
<text x="790.5" y="366" text-anchor="middle">20</text>
<line x1="845.9" y1="322.4" x2="845.9" y2="332.4" stroke="#000" stroke-width="2.6"/>
<text x="845.9" y="366" text-anchor="middle">25</text>
<line x1="567.7" y1="241.4" x2="557.7" y2="241.4" stroke="#000" stroke-width="2.6"/>
<text x="547.9" y="252.3" text-anchor="end">10</text>
<line x1="567.7" y1="160.85" x2="557.7" y2="160.85" stroke="#000" stroke-width="2.6"/>
<text x="547.9" y="171.75" text-anchor="end">15</text>
<line x1="567.7" y1="80.3" x2="557.7" y2="80.3" stroke="#000" stroke-width="2.6"/>
<text x="547.9" y="91.2" text-anchor="end">20</text>
<text x="724.15" y="406.8" text-anchor="middle">Momentum sector</text>
<text x="584.2" y="48.2">(b)</text>
<text transform="translate(489.8 161.4) rotate(-90)" text-anchor="middle">HES (<tspan font-style="oblique">N</tspan><tspan font-size="21.2" dy="4.6" font-style="oblique">A</tspan><tspan dy="-4.6" dx="-2"> =</tspan><tspan dx="-2"> 4)</tspan></text>
</g>
<g id="panel-c">
<polygon points="204.4,550.42 267.16,590.41 267.16,670.39 204.4,710.38 141.64,670.39 141.64,590.41" fill="none" stroke="#000" stroke-width="3.0" stroke-linejoin="round"/>
<circle cx="78.88" cy="630.4" r="7.5" fill="#830305"/>
<circle cx="99.8" cy="590.41" r="7.5" fill="#78a5bf"/>
<circle cx="99.8" cy="617.07" r="7.5" fill="#81aac0"/>
<circle cx="99.8" cy="643.73" r="7.5" fill="#81aac0"/>
<circle cx="99.8" cy="670.39" r="7.5" fill="#78a5bf"/>
<circle cx="120.72" cy="550.42" r="7.5" fill="#78a5bf"/>
<circle cx="120.72" cy="577.08" r="7.5" fill="#8fb2c3"/>
<circle cx="120.72" cy="603.74" r="7.5" fill="#b3c6c9"/>
<circle cx="120.72" cy="630.4" r="7.5" fill="#b8c9ca"/>
<circle cx="120.72" cy="657.06" r="7.5" fill="#b3c6c9"/>
<circle cx="120.72" cy="683.72" r="7.5" fill="#8aafc2"/>
<circle cx="120.72" cy="710.38" r="7.5" fill="#78a5bf"/>
<circle cx="141.64" cy="510.43" r="7.5" fill="#830305"/>
<circle cx="141.64" cy="537.09" r="7.5" fill="#86adc1"/>
<circle cx="141.64" cy="563.75" r="7.5" fill="#b8c9ca"/>
<circle cx="141.64" cy="590.41" r="7.5" fill="#780000"/>
<circle cx="141.64" cy="617.07" r="7.5" fill="#f4ceb9"/>
<circle cx="141.64" cy="643.73" r="7.5" fill="#f0c0ae"/>
<circle cx="141.64" cy="670.39" r="7.5" fill="#780000"/>
<circle cx="141.64" cy="697.05" r="7.5" fill="#b8c9ca"/>
<circle cx="141.64" cy="723.71" r="7.5" fill="#86adc1"/>
<circle cx="141.64" cy="750.37" r="7.5" fill="#830305"/>
<circle cx="162.56" cy="523.76" r="7.5" fill="#81aac0"/>
<circle cx="162.56" cy="550.42" r="7.5" fill="#ced6cd"/>
<circle cx="162.56" cy="577.08" r="7.5" fill="#e4958a"/>
<circle cx="162.56" cy="603.74" r="7.5" fill="#db746f"/>
<circle cx="162.56" cy="630.4" r="7.5" fill="#e8a295"/>
<circle cx="162.56" cy="657.06" r="7.5" fill="#db746f"/>
<circle cx="162.56" cy="683.72" r="7.5" fill="#e69c90"/>
<circle cx="162.56" cy="710.38" r="7.5" fill="#ced6cd"/>
<circle cx="162.56" cy="737.04" r="7.5" fill="#81aac0"/>
<circle cx="183.48" cy="510.43" r="7.5" fill="#78a5bf"/>
<circle cx="183.48" cy="537.09" r="7.5" fill="#b3c6c9"/>
<circle cx="183.48" cy="563.75" r="7.5" fill="#e8a295"/>
<circle cx="183.48" cy="590.41" r="7.5" fill="#d45959"/>
<circle cx="183.48" cy="617.07" r="7.5" fill="#f8edd4"/>
<circle cx="183.48" cy="643.73" r="7.5" fill="#f2ead3"/>
<circle cx="183.48" cy="670.39" r="7.5" fill="#d45959"/>
<circle cx="183.48" cy="697.05" r="7.5" fill="#e5988d"/>
<circle cx="183.48" cy="723.71" r="7.5" fill="#b3c6c9"/>
<circle cx="183.48" cy="750.37" r="7.5" fill="#78a5bf"/>
<circle cx="204.4" cy="523.76" r="7.5" fill="#8aafc2"/>
<circle cx="204.4" cy="550.42" r="7.5" fill="#780000"/>
<circle cx="204.4" cy="577.08" r="7.5" fill="#db746f"/>
<circle cx="204.4" cy="603.74" r="7.5" fill="#f2ead3"/>
<circle cx="204.4" cy="630.4" r="7.5" fill="#669bbc"/>
<circle cx="204.4" cy="657.06" r="7.5" fill="#f8edd4"/>
<circle cx="204.4" cy="683.72" r="7.5" fill="#db746f"/>
<circle cx="204.4" cy="710.38" r="7.5" fill="#780000"/>
<circle cx="204.4" cy="737.04" r="7.5" fill="#8aafc2"/>
<circle cx="225.32" cy="510.43" r="7.5" fill="#78a5bf"/>
<circle cx="225.32" cy="537.09" r="7.5" fill="#b3c6c9"/>
<circle cx="225.32" cy="563.75" r="7.5" fill="#f0c0ae"/>
<circle cx="225.32" cy="590.41" r="7.5" fill="#e8a295"/>
<circle cx="225.32" cy="617.07" r="7.5" fill="#f8edd4"/>
<circle cx="225.32" cy="643.73" r="7.5" fill="#f2ead3"/>
<circle cx="225.32" cy="670.39" r="7.5" fill="#e8a295"/>
<circle cx="225.32" cy="697.05" r="7.5" fill="#f4ceb9"/>
<circle cx="225.32" cy="723.71" r="7.5" fill="#b3c6c9"/>
<circle cx="225.32" cy="750.37" r="7.5" fill="#78a5bf"/>
<circle cx="246.24" cy="523.76" r="7.5" fill="#81aac0"/>
<circle cx="246.24" cy="550.42" r="7.5" fill="#b8c9ca"/>
<circle cx="246.24" cy="577.08" r="7.5" fill="#f4ceb9"/>
<circle cx="246.24" cy="603.74" r="7.5" fill="#db746f"/>
<circle cx="246.24" cy="630.4" r="7.5" fill="#d45959"/>
<circle cx="246.24" cy="657.06" r="7.5" fill="#db746f"/>
<circle cx="246.24" cy="683.72" r="7.5" fill="#f0c0ae"/>
<circle cx="246.24" cy="710.38" r="7.5" fill="#b8c9ca"/>
<circle cx="246.24" cy="737.04" r="7.5" fill="#81aac0"/>
<circle cx="267.16" cy="510.43" r="7.5" fill="#830305"/>
<circle cx="267.16" cy="537.09" r="7.5" fill="#81aac0"/>
<circle cx="267.16" cy="563.75" r="7.5" fill="#b3c6c9"/>
<circle cx="267.16" cy="590.41" r="7.5" fill="#780000"/>
<circle cx="267.16" cy="617.07" r="7.5" fill="#e5988d"/>
<circle cx="267.16" cy="643.73" r="7.5" fill="#e8a295"/>
<circle cx="267.16" cy="670.39" r="7.5" fill="#780000"/>
<circle cx="267.16" cy="697.05" r="7.5" fill="#b3c6c9"/>
<circle cx="267.16" cy="723.71" r="7.5" fill="#81aac0"/>
<circle cx="267.16" cy="750.37" r="7.5" fill="#830305"/>
<circle cx="288.08" cy="550.42" r="7.5" fill="#78a5bf"/>
<circle cx="288.08" cy="577.08" r="7.5" fill="#93b4c4"/>
<circle cx="288.08" cy="603.74" r="7.5" fill="#bccbca"/>
<circle cx="288.08" cy="630.4" r="7.5" fill="#ced6cd"/>
<circle cx="288.08" cy="657.06" r="7.5" fill="#bccbca"/>
<circle cx="288.08" cy="683.72" r="7.5" fill="#93b4c4"/>
<circle cx="288.08" cy="710.38" r="7.5" fill="#78a5bf"/>
<circle cx="309" cy="590.41" r="7.5" fill="#78a5bf"/>
<circle cx="309" cy="617.07" r="7.5" fill="#81aac0"/>
<circle cx="309" cy="643.73" r="7.5" fill="#81aac0"/>
<circle cx="309" cy="670.39" r="7.5" fill="#78a5bf"/>
<circle cx="329.92" cy="630.4" r="7.5" fill="#830305"/>
<text x="74.2" y="508.5">(c)</text>
<rect x="359.8" y="478.5" width="14.8" height="304.5" fill="url(#cb3)"/>
<rect x="359.8" y="478.5" width="14.8" height="304.5" fill="none" stroke="#000" stroke-width="2.6"/>
<line x1="375.6" y1="782.9" x2="385.6" y2="782.9" stroke="#000" stroke-width="2.7"/>
<text x="395.8" y="794.1">0.0</text>
<line x1="375.6" y1="719.9" x2="385.6" y2="719.9" stroke="#000" stroke-width="2.7"/>
<text x="395.8" y="731.1">2.5</text>
<line x1="375.6" y1="656.9" x2="385.6" y2="656.9" stroke="#000" stroke-width="2.7"/>
<text x="395.8" y="668.1">5.0</text>
<line x1="375.6" y1="593.9" x2="385.6" y2="593.9" stroke="#000" stroke-width="2.7"/>
<text x="395.8" y="605.1">7.5</text>
<line x1="375.6" y1="530.9" x2="385.6" y2="530.9" stroke="#000" stroke-width="2.7"/>
<text x="395.8" y="542.1">10.0</text>
<text x="343.8" y="470.3" style="font-size:25.4px">×<tspan dx="-1.4">10</tspan><tspan font-size="17.8" dy="-9.7">−2</tspan></text>
<text transform="translate(498.2 631.9) rotate(-90)" text-anchor="middle">Structure factor <tspan font-style="oblique">S</tspan>(<tspan font-weight="bold">q</tspan>)</text>
</g>
<g id="panel-d">
<clipPath id="rh"><polygon points="659.5,781.4 768.1,630.89 659.5,480.38 550.9,630.89"/></clipPath>
<g clip-path="url(#rh)">
<rect x="540" y="470" width="240" height="325" fill="#a6c3d3"/>
<ellipse cx="659.5" cy="731.23" rx="20" ry="10.5" fill="url(#gblue)"/>
<ellipse cx="623.3" cy="681.06" rx="20" ry="10.5" fill="url(#gblue)"/>
<ellipse cx="587.1" cy="630.89" rx="20" ry="10.5" fill="url(#gblue)"/>
<ellipse cx="695.7" cy="681.06" rx="20" ry="10.5" fill="url(#gblue)"/>
<ellipse cx="659.5" cy="630.89" rx="20" ry="10.5" fill="url(#gblue)"/>
<ellipse cx="623.3" cy="580.72" rx="20" ry="10.5" fill="url(#gblue)"/>
<ellipse cx="731.9" cy="630.89" rx="20" ry="10.5" fill="url(#gblue)"/>
<ellipse cx="695.7" cy="580.72" rx="20" ry="10.5" fill="url(#gblue)"/>
<ellipse cx="659.5" cy="530.55" rx="20" ry="10.5" fill="url(#gblue)"/>
<ellipse cx="641.4" cy="756.31" rx="17" ry="10" fill="url(#gblue)" transform="rotate(54.19 641.4 756.31)"/>
<ellipse cx="677.6" cy="756.31" rx="17" ry="10" fill="url(#gblue)" transform="rotate(-54.19 677.6 756.31)"/>
<ellipse cx="605.2" cy="706.14" rx="17" ry="10" fill="url(#gblue)" transform="rotate(54.19 605.2 706.14)"/>
<ellipse cx="713.8" cy="706.14" rx="17" ry="10" fill="url(#gblue)" transform="rotate(-54.19 713.8 706.14)"/>
<ellipse cx="569" cy="655.97" rx="17" ry="10" fill="url(#gblue)" transform="rotate(54.19 569 655.97)"/>
<ellipse cx="750" cy="655.97" rx="17" ry="10" fill="url(#gblue)" transform="rotate(-54.19 750 655.97)"/>
<ellipse cx="677.6" cy="706.14" rx="17" ry="10" fill="url(#gblue)" transform="rotate(54.19 677.6 706.14)"/>
<ellipse cx="641.4" cy="706.14" rx="17" ry="10" fill="url(#gblue)" transform="rotate(-54.19 641.4 706.14)"/>
<ellipse cx="641.4" cy="655.98" rx="17" ry="10" fill="url(#gblue)" transform="rotate(54.19 641.4 655.98)"/>
<ellipse cx="677.6" cy="655.98" rx="17" ry="10" fill="url(#gblue)" transform="rotate(-54.19 677.6 655.98)"/>
<ellipse cx="605.2" cy="605.81" rx="17" ry="10" fill="url(#gblue)" transform="rotate(54.19 605.2 605.81)"/>
<ellipse cx="713.8" cy="605.8" rx="17" ry="10" fill="url(#gblue)" transform="rotate(-54.19 713.8 605.8)"/>
<ellipse cx="713.8" cy="655.97" rx="17" ry="10" fill="url(#gblue)" transform="rotate(54.19 713.8 655.97)"/>
<ellipse cx="605.2" cy="655.97" rx="17" ry="10" fill="url(#gblue)" transform="rotate(-54.19 605.2 655.97)"/>
<ellipse cx="677.6" cy="605.8" rx="17" ry="10" fill="url(#gblue)" transform="rotate(54.19 677.6 605.8)"/>
<ellipse cx="641.4" cy="605.8" rx="17" ry="10" fill="url(#gblue)" transform="rotate(-54.19 641.4 605.8)"/>
<ellipse cx="641.4" cy="555.63" rx="17" ry="10" fill="url(#gblue)" transform="rotate(54.19 641.4 555.63)"/>
<ellipse cx="677.6" cy="555.63" rx="17" ry="10" fill="url(#gblue)" transform="rotate(-54.19 677.6 555.63)"/>
<ellipse cx="750" cy="605.8" rx="17" ry="10" fill="url(#gblue)" transform="rotate(54.19 750 605.8)"/>
<ellipse cx="569" cy="605.8" rx="17" ry="10" fill="url(#gblue)" transform="rotate(-54.19 569 605.8)"/>
<ellipse cx="713.8" cy="555.63" rx="17" ry="10" fill="url(#gblue)" transform="rotate(54.19 713.8 555.63)"/>
<ellipse cx="605.2" cy="555.63" rx="17" ry="10" fill="url(#gblue)" transform="rotate(-54.19 605.2 555.63)"/>
<ellipse cx="677.6" cy="505.46" rx="17" ry="10" fill="url(#gblue)" transform="rotate(54.19 677.6 505.46)"/>
<ellipse cx="641.4" cy="505.46" rx="17" ry="10" fill="url(#gblue)" transform="rotate(-54.19 641.4 505.46)"/>
<g filter="url(#blur)" stroke="#efead9" stroke-width="8" stroke-linecap="round" opacity="0.5">
<line x1="659.5" y1="848.29" x2="659.5" y2="881.74"/>
<line x1="659.5" y1="848.29" x2="695.7" y2="831.57"/>
<line x1="659.5" y1="848.29" x2="623.3" y2="831.57"/>
<line x1="659.5" y1="814.85" x2="659.5" y2="781.4"/>
<line x1="659.5" y1="814.85" x2="695.7" y2="831.57"/>
<line x1="659.5" y1="814.85" x2="623.3" y2="831.57"/>
<line x1="623.3" y1="798.12" x2="623.3" y2="831.57"/>
<line x1="623.3" y1="798.12" x2="659.5" y2="781.4"/>
<line x1="623.3" y1="798.12" x2="587.1" y2="781.4"/>
<line x1="623.3" y1="764.68" x2="623.3" y2="731.23"/>
<line x1="623.3" y1="764.68" x2="659.5" y2="781.4"/>
<line x1="623.3" y1="764.68" x2="587.1" y2="781.4"/>
<line x1="587.1" y1="747.95" x2="587.1" y2="781.4"/>
<line x1="587.1" y1="747.95" x2="623.3" y2="731.23"/>
<line x1="587.1" y1="747.95" x2="550.9" y2="731.23"/>
<line x1="587.1" y1="714.51" x2="587.1" y2="681.06"/>
<line x1="587.1" y1="714.51" x2="623.3" y2="731.23"/>
<line x1="587.1" y1="714.51" x2="550.9" y2="731.23"/>
<line x1="550.9" y1="697.78" x2="550.9" y2="731.23"/>
<line x1="550.9" y1="697.78" x2="587.1" y2="681.06"/>
<line x1="550.9" y1="697.78" x2="514.7" y2="681.06"/>
<line x1="550.9" y1="664.34" x2="550.9" y2="630.89"/>
<line x1="550.9" y1="664.34" x2="587.1" y2="681.06"/>
<line x1="550.9" y1="664.34" x2="514.7" y2="681.06"/>
<line x1="514.7" y1="647.61" x2="514.7" y2="681.06"/>
<line x1="514.7" y1="647.61" x2="550.9" y2="630.89"/>
<line x1="514.7" y1="647.61" x2="478.5" y2="630.89"/>
<line x1="514.7" y1="614.17" x2="514.7" y2="580.72"/>
<line x1="514.7" y1="614.17" x2="550.9" y2="630.89"/>
<line x1="514.7" y1="614.17" x2="478.5" y2="630.89"/>
<line x1="695.7" y1="798.12" x2="695.7" y2="831.57"/>
<line x1="695.7" y1="798.12" x2="731.9" y2="781.4"/>
<line x1="695.7" y1="798.12" x2="659.5" y2="781.4"/>
<line x1="695.7" y1="764.68" x2="695.7" y2="731.23"/>
<line x1="695.7" y1="764.68" x2="731.9" y2="781.4"/>
<line x1="695.7" y1="764.68" x2="659.5" y2="781.4"/>
<line x1="659.5" y1="747.95" x2="659.5" y2="781.4"/>
<line x1="659.5" y1="747.95" x2="695.7" y2="731.23"/>
<line x1="659.5" y1="747.95" x2="623.3" y2="731.23"/>
<line x1="659.5" y1="714.51" x2="659.5" y2="681.06"/>
<line x1="659.5" y1="714.51" x2="695.7" y2="731.23"/>
<line x1="659.5" y1="714.51" x2="623.3" y2="731.23"/>
<line x1="623.3" y1="697.78" x2="623.3" y2="731.23"/>
<line x1="623.3" y1="697.78" x2="659.5" y2="681.06"/>
<line x1="623.3" y1="697.78" x2="587.1" y2="681.06"/>
<line x1="623.3" y1="664.34" x2="623.3" y2="630.89"/>
<line x1="623.3" y1="664.34" x2="659.5" y2="681.06"/>
<line x1="623.3" y1="664.34" x2="587.1" y2="681.06"/>
<line x1="587.1" y1="647.61" x2="587.1" y2="681.06"/>
<line x1="587.1" y1="647.61" x2="623.3" y2="630.89"/>
<line x1="587.1" y1="647.61" x2="550.9" y2="630.89"/>
<line x1="587.1" y1="614.17" x2="587.1" y2="580.72"/>
<line x1="587.1" y1="614.17" x2="623.3" y2="630.89"/>
<line x1="587.1" y1="614.17" x2="550.9" y2="630.89"/>
<line x1="550.9" y1="597.44" x2="550.9" y2="630.89"/>
<line x1="550.9" y1="597.44" x2="587.1" y2="580.72"/>
<line x1="550.9" y1="597.44" x2="514.7" y2="580.72"/>
<line x1="550.9" y1="564" x2="550.9" y2="530.55"/>
<line x1="550.9" y1="564" x2="587.1" y2="580.72"/>
<line x1="550.9" y1="564" x2="514.7" y2="580.72"/>
<line x1="731.9" y1="747.95" x2="731.9" y2="781.4"/>
<line x1="731.9" y1="747.95" x2="768.1" y2="731.23"/>
<line x1="731.9" y1="747.95" x2="695.7" y2="731.23"/>
<line x1="731.9" y1="714.51" x2="731.9" y2="681.06"/>
<line x1="731.9" y1="714.51" x2="768.1" y2="731.23"/>
<line x1="731.9" y1="714.51" x2="695.7" y2="731.23"/>
<line x1="695.7" y1="697.78" x2="695.7" y2="731.23"/>
<line x1="695.7" y1="697.78" x2="731.9" y2="681.06"/>
<line x1="695.7" y1="697.78" x2="659.5" y2="681.06"/>
<line x1="695.7" y1="664.34" x2="695.7" y2="630.89"/>
<line x1="695.7" y1="664.34" x2="731.9" y2="681.06"/>
<line x1="695.7" y1="664.34" x2="659.5" y2="681.06"/>
<line x1="659.5" y1="647.61" x2="659.5" y2="681.06"/>
<line x1="659.5" y1="647.61" x2="695.7" y2="630.89"/>
<line x1="659.5" y1="647.61" x2="623.3" y2="630.89"/>
<line x1="659.5" y1="614.17" x2="659.5" y2="580.72"/>
<line x1="659.5" y1="614.17" x2="695.7" y2="630.89"/>
<line x1="659.5" y1="614.17" x2="623.3" y2="630.89"/>
<line x1="623.3" y1="597.44" x2="623.3" y2="630.89"/>
<line x1="623.3" y1="597.44" x2="659.5" y2="580.72"/>
<line x1="623.3" y1="597.44" x2="587.1" y2="580.72"/>
<line x1="623.3" y1="564" x2="623.3" y2="530.55"/>
<line x1="623.3" y1="564" x2="659.5" y2="580.72"/>
<line x1="623.3" y1="564" x2="587.1" y2="580.72"/>
<line x1="587.1" y1="547.27" x2="587.1" y2="580.72"/>
<line x1="587.1" y1="547.27" x2="623.3" y2="530.55"/>
<line x1="587.1" y1="547.27" x2="550.9" y2="530.55"/>
<line x1="587.1" y1="513.83" x2="587.1" y2="480.38"/>
<line x1="587.1" y1="513.83" x2="623.3" y2="530.55"/>
<line x1="587.1" y1="513.83" x2="550.9" y2="530.55"/>
<line x1="768.1" y1="697.78" x2="768.1" y2="731.23"/>
<line x1="768.1" y1="697.78" x2="804.3" y2="681.06"/>
<line x1="768.1" y1="697.78" x2="731.9" y2="681.06"/>
<line x1="768.1" y1="664.34" x2="768.1" y2="630.89"/>
<line x1="768.1" y1="664.34" x2="804.3" y2="681.06"/>
<line x1="768.1" y1="664.34" x2="731.9" y2="681.06"/>
<line x1="731.9" y1="647.61" x2="731.9" y2="681.06"/>
<line x1="731.9" y1="647.61" x2="768.1" y2="630.89"/>
<line x1="731.9" y1="647.61" x2="695.7" y2="630.89"/>
<line x1="731.9" y1="614.17" x2="731.9" y2="580.72"/>
<line x1="731.9" y1="614.17" x2="768.1" y2="630.89"/>
<line x1="731.9" y1="614.17" x2="695.7" y2="630.89"/>
<line x1="695.7" y1="597.44" x2="695.7" y2="630.89"/>
<line x1="695.7" y1="597.44" x2="731.9" y2="580.72"/>
<line x1="695.7" y1="597.44" x2="659.5" y2="580.72"/>
<line x1="695.7" y1="564" x2="695.7" y2="530.55"/>
<line x1="695.7" y1="564" x2="731.9" y2="580.72"/>
<line x1="695.7" y1="564" x2="659.5" y2="580.72"/>
<line x1="659.5" y1="547.27" x2="659.5" y2="580.72"/>
<line x1="659.5" y1="547.27" x2="695.7" y2="530.55"/>
<line x1="659.5" y1="547.27" x2="623.3" y2="530.55"/>
<line x1="659.5" y1="513.83" x2="659.5" y2="480.38"/>
<line x1="659.5" y1="513.83" x2="695.7" y2="530.55"/>
<line x1="659.5" y1="513.83" x2="623.3" y2="530.55"/>
<line x1="623.3" y1="497.1" x2="623.3" y2="530.55"/>
<line x1="623.3" y1="497.1" x2="659.5" y2="480.38"/>
<line x1="623.3" y1="497.1" x2="587.1" y2="480.38"/>
<line x1="623.3" y1="463.66" x2="623.3" y2="430.21"/>
<line x1="623.3" y1="463.66" x2="659.5" y2="480.38"/>
<line x1="623.3" y1="463.66" x2="587.1" y2="480.38"/>
<line x1="804.3" y1="647.61" x2="804.3" y2="681.06"/>
<line x1="804.3" y1="647.61" x2="840.5" y2="630.89"/>
<line x1="804.3" y1="647.61" x2="768.1" y2="630.89"/>
<line x1="804.3" y1="614.17" x2="804.3" y2="580.72"/>
<line x1="804.3" y1="614.17" x2="840.5" y2="630.89"/>
<line x1="804.3" y1="614.17" x2="768.1" y2="630.89"/>
<line x1="768.1" y1="597.44" x2="768.1" y2="630.89"/>
<line x1="768.1" y1="597.44" x2="804.3" y2="580.72"/>
<line x1="768.1" y1="597.44" x2="731.9" y2="580.72"/>
<line x1="768.1" y1="564" x2="768.1" y2="530.55"/>
<line x1="768.1" y1="564" x2="804.3" y2="580.72"/>
<line x1="768.1" y1="564" x2="731.9" y2="580.72"/>
<line x1="731.9" y1="547.27" x2="731.9" y2="580.72"/>
<line x1="731.9" y1="547.27" x2="768.1" y2="530.55"/>
<line x1="731.9" y1="547.27" x2="695.7" y2="530.55"/>
<line x1="731.9" y1="513.83" x2="731.9" y2="480.38"/>
<line x1="731.9" y1="513.83" x2="768.1" y2="530.55"/>
<line x1="731.9" y1="513.83" x2="695.7" y2="530.55"/>
<line x1="695.7" y1="497.1" x2="695.7" y2="530.55"/>
<line x1="695.7" y1="497.1" x2="731.9" y2="480.38"/>
<line x1="695.7" y1="497.1" x2="659.5" y2="480.38"/>
<line x1="695.7" y1="463.66" x2="695.7" y2="430.21"/>
<line x1="695.7" y1="463.66" x2="731.9" y2="480.38"/>
<line x1="695.7" y1="463.66" x2="659.5" y2="480.38"/>
<line x1="659.5" y1="446.93" x2="659.5" y2="480.38"/>
<line x1="659.5" y1="446.93" x2="695.7" y2="430.21"/>
<line x1="659.5" y1="446.93" x2="623.3" y2="430.21"/>
<line x1="659.5" y1="413.49" x2="659.5" y2="380.04"/>
<line x1="659.5" y1="413.49" x2="695.7" y2="430.21"/>
<line x1="659.5" y1="413.49" x2="623.3" y2="430.21"/>
</g>
<ellipse cx="659.5" cy="747.95" rx="15.5" ry="13.5" fill="url(#gcream)"/>
<ellipse cx="659.5" cy="714.51" rx="15.5" ry="13.5" fill="url(#gcream)"/>
<ellipse cx="623.3" cy="697.78" rx="15.5" ry="13.5" fill="url(#gcream)"/>
<ellipse cx="623.3" cy="664.34" rx="15.5" ry="13.5" fill="url(#gcream)"/>
<ellipse cx="587.1" cy="647.61" rx="15.5" ry="13.5" fill="url(#gcream)"/>
<ellipse cx="587.1" cy="614.17" rx="15.5" ry="13.5" fill="url(#gcream)"/>
<ellipse cx="695.7" cy="697.78" rx="15.5" ry="13.5" fill="url(#gcream)"/>
<ellipse cx="695.7" cy="664.34" rx="15.5" ry="13.5" fill="url(#gcream)"/>
<ellipse cx="659.5" cy="647.61" rx="15.5" ry="13.5" fill="url(#gcream)"/>
<ellipse cx="659.5" cy="614.17" rx="15.5" ry="13.5" fill="url(#gcream)"/>
<ellipse cx="623.3" cy="597.44" rx="15.5" ry="13.5" fill="url(#gcream)"/>
<ellipse cx="623.3" cy="564" rx="15.5" ry="13.5" fill="url(#gcream)"/>
<ellipse cx="731.9" cy="647.61" rx="15.5" ry="13.5" fill="url(#gcream)"/>
<ellipse cx="731.9" cy="614.17" rx="15.5" ry="13.5" fill="url(#gcream)"/>
<ellipse cx="695.7" cy="597.44" rx="15.5" ry="13.5" fill="url(#gcream)"/>
<ellipse cx="695.7" cy="564" rx="15.5" ry="13.5" fill="url(#gcream)"/>
<ellipse cx="659.5" cy="547.27" rx="15.5" ry="13.5" fill="url(#gcream)"/>
<ellipse cx="659.5" cy="513.83" rx="15.5" ry="13.5" fill="url(#gcream)"/>
<ellipse cx="659.5" cy="781.4" rx="25" ry="20" fill="url(#gdark)"/>
<ellipse cx="623.3" cy="731.23" rx="18" ry="15" fill="url(#gpink)"/>
<ellipse cx="587.1" cy="681.06" rx="18" ry="15" fill="url(#gpink)"/>
<ellipse cx="550.9" cy="630.89" rx="25" ry="20" fill="url(#gdark)"/>
<ellipse cx="695.7" cy="731.23" rx="18" ry="15" fill="url(#gpink)"/>
<ellipse cx="659.5" cy="681.06" rx="18" ry="15" fill="url(#gpink)"/>
<ellipse cx="623.3" cy="630.89" rx="18" ry="15" fill="url(#gpink)"/>
<ellipse cx="587.1" cy="580.72" rx="18" ry="15" fill="url(#gpink)"/>
<ellipse cx="731.9" cy="681.06" rx="18" ry="15" fill="url(#gpink)"/>
<ellipse cx="695.7" cy="630.89" rx="18" ry="15" fill="url(#gpink)"/>
<ellipse cx="659.5" cy="580.72" rx="18" ry="15" fill="url(#gpink)"/>
<ellipse cx="623.3" cy="530.55" rx="18" ry="15" fill="url(#gpink)"/>
<ellipse cx="768.1" cy="630.89" rx="25" ry="20" fill="url(#gdark)"/>
<ellipse cx="731.9" cy="580.72" rx="18" ry="15" fill="url(#gpink)"/>
<ellipse cx="695.7" cy="530.55" rx="18" ry="15" fill="url(#gpink)"/>
<ellipse cx="659.5" cy="480.38" rx="25" ry="20" fill="url(#gdark)"/>
</g>
<line x1="659.5" y1="781.4" x2="550.9" y2="630.89" stroke="#000" stroke-width="1.7" stroke-linecap="square"/>
<line x1="659.5" y1="781.4" x2="768.1" y2="630.89" stroke="#000" stroke-width="1.7" stroke-linecap="square"/>
<line x1="695.7" y1="731.23" x2="587.1" y2="580.72" stroke="#000" stroke-width="2.3" stroke-linecap="square"/>
<line x1="623.3" y1="731.23" x2="731.9" y2="580.72" stroke="#000" stroke-width="2.3" stroke-linecap="square"/>
<line x1="731.9" y1="681.06" x2="623.3" y2="530.55" stroke="#000" stroke-width="2.3" stroke-linecap="square"/>
<line x1="587.1" y1="681.06" x2="695.7" y2="530.55" stroke="#000" stroke-width="2.3" stroke-linecap="square"/>
<line x1="768.1" y1="630.89" x2="659.5" y2="480.38" stroke="#000" stroke-width="1.7" stroke-linecap="square"/>
<line x1="550.9" y1="630.89" x2="659.5" y2="480.38" stroke="#000" stroke-width="1.7" stroke-linecap="square"/>
<g fill="#000">
<rect x="657.2" y="779.1" width="4.6" height="4.6"/>
<rect x="621" y="728.93" width="4.6" height="4.6"/>
<rect x="584.8" y="678.76" width="4.6" height="4.6"/>
<rect x="548.6" y="628.59" width="4.6" height="4.6"/>
<rect x="693.4" y="728.93" width="4.6" height="4.6"/>
<rect x="657.2" y="678.76" width="4.6" height="4.6"/>
<rect x="621" y="628.59" width="4.6" height="4.6"/>
<rect x="584.8" y="578.42" width="4.6" height="4.6"/>
<rect x="729.6" y="678.76" width="4.6" height="4.6"/>
<rect x="693.4" y="628.59" width="4.6" height="4.6"/>
<rect x="657.2" y="578.42" width="4.6" height="4.6"/>
<rect x="621" y="528.25" width="4.6" height="4.6"/>
<rect x="765.8" y="628.59" width="4.6" height="4.6"/>
<rect x="729.6" y="578.42" width="4.6" height="4.6"/>
<rect x="693.4" y="528.25" width="4.6" height="4.6"/>
<rect x="657.2" y="478.08" width="4.6" height="4.6"/>
<circle cx="659.5" cy="747.95" r="3.1"/>
<circle cx="659.5" cy="714.51" r="3.1"/>
<circle cx="623.3" cy="697.78" r="3.1"/>
<circle cx="623.3" cy="664.34" r="3.1"/>
<circle cx="587.1" cy="647.61" r="3.1"/>
<circle cx="587.1" cy="614.17" r="3.1"/>
<circle cx="695.7" cy="697.78" r="3.1"/>
<circle cx="695.7" cy="664.34" r="3.1"/>
<circle cx="659.5" cy="647.61" r="3.1"/>
<circle cx="659.5" cy="614.17" r="3.1"/>
<circle cx="623.3" cy="597.44" r="3.1"/>
<circle cx="623.3" cy="564" r="3.1"/>
<circle cx="731.9" cy="647.61" r="3.1"/>
<circle cx="731.9" cy="614.17" r="3.1"/>
<circle cx="695.7" cy="597.44" r="3.1"/>
<circle cx="695.7" cy="564" r="3.1"/>
<circle cx="659.5" cy="547.27" r="3.1"/>
<circle cx="659.5" cy="513.83" r="3.1"/>
</g>
<line x1="647.7" y1="788.2" x2="624.07" y2="756.1" stroke="#000" stroke-width="3.6" stroke-linecap="round"/>
<polygon points="613.99,742.41 630.41,753.91 620.1,761.5" fill="#000" stroke="#000" stroke-width="1.8" stroke-linejoin="round"/>
<line x1="670.7" y1="788.2" x2="694.41" y2="756.08" stroke="#000" stroke-width="3.6" stroke-linecap="round"/>
<polygon points="704.51,742.4 698.37,761.49 688.07,753.89" fill="#000" stroke="#000" stroke-width="1.8" stroke-linejoin="round"/>
<text transform="translate(560 789.9) scale(0.83 1)" style="font-size:33.2px;stroke:#fff;stroke-width:0.55px">√</text>
<text x="577.9" y="790.8" style="font-size:25.4px">3</text>
<text x="597.3" y="790.4" style="font-size:25.4px;font-style:oblique">a</text>
<text x="612.3" y="794.2" style="font-size:17.8px;font-style:oblique">m</text>
<line x1="575.4" y1="763.75" x2="596.9" y2="763.75" stroke="#000" stroke-width="1.5"/>
<text transform="translate(692.8 789.9) scale(0.83 1)" style="font-size:33.2px;stroke:#fff;stroke-width:0.55px">√</text>
<text x="710.7" y="790.8" style="font-size:25.4px">3</text>
<text x="730.1" y="790.4" style="font-size:25.4px;font-style:oblique">a</text>
<text x="745.1" y="794.2" style="font-size:17.8px;font-style:oblique">m</text>
<line x1="708.2" y1="763.75" x2="729.7" y2="763.75" stroke="#000" stroke-width="1.5"/>
<text x="568" y="511.4">(d)</text>
<rect x="793.2" y="478.9" width="15.6" height="304.1" fill="url(#cb4)"/>
<rect x="793.2" y="478.9" width="15.6" height="304.1" fill="none" stroke="#000" stroke-width="2.6"/>
<line x1="809.8" y1="781.2" x2="819.8" y2="781.2" stroke="#000" stroke-width="2.7"/>
<text x="830.4" y="792.1">0.80</text>
<line x1="809.8" y1="705.65" x2="819.8" y2="705.65" stroke="#000" stroke-width="2.7"/>
<text x="830.4" y="716.55">0.85</text>
<line x1="809.8" y1="630.1" x2="819.8" y2="630.1" stroke="#000" stroke-width="2.7"/>
<text x="830.4" y="641">0.90</text>
<line x1="809.8" y1="554.55" x2="819.8" y2="554.55" stroke="#000" stroke-width="2.7"/>
<text x="830.4" y="565.45">0.95</text>
<line x1="809.8" y1="479" x2="819.8" y2="479" stroke="#000" stroke-width="2.7"/>
<text x="830.4" y="489.9">1.00</text>
<text transform="translate(932.2 628.3) rotate(-90)" text-anchor="middle" letter-spacing="0.43">Pair correlation <tspan font-style="oblique">G</tspan>(<tspan font-weight="bold">r</tspan>)</text>
</g>
</svg>
</body>
</html>
